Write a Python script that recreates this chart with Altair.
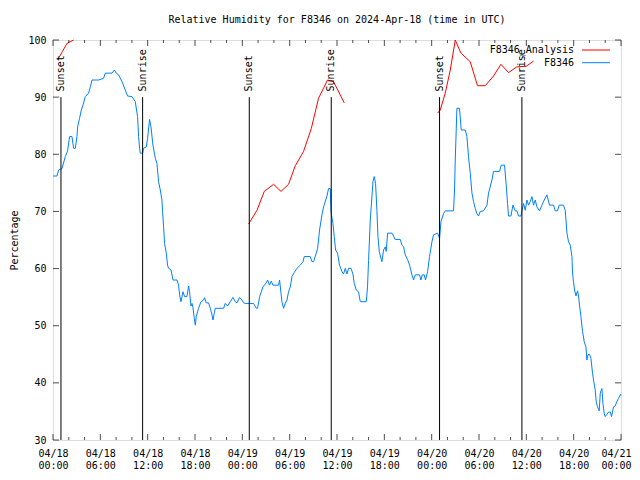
import json
import altair as alt
import pandas as pd

FONT = "DejaVu Sans Mono"
title_text = "Relative Humidity for F8346 on 2024-Apr-18 (time in UTC)"
y_title = "Percentage"

# x axis: hours since 2024-04-18 00:00 UTC
x_tick_hours = [0, 6, 12, 18, 24, 30, 36, 42, 48, 54, 60, 66, 72]
x_tick_labels = ["04/18 00:00", "04/18 06:00", "04/18 12:00", "04/18 18:00",
                 "04/19 00:00", "04/19 06:00", "04/19 12:00", "04/19 18:00",
                 "04/20 00:00", "04/20 06:00", "04/20 12:00", "04/20 18:00",
                 "04/21 00:00"]
x_minor_hours = [2, 4, 8, 10, 14, 16, 20, 22, 26, 28, 32, 34, 38, 40, 44, 46,
                 50, 52, 56, 58, 62, 64, 68, 70]
y_ticks = [30, 40, 50, 60, 70, 80, 90, 100]

sun_hours = [1.01, 11.36, 24.88, 35.27, 49.0, 59.44]
sun_labels = ["Sunset", "Sunrise", "Sunset", "Sunrise", "Sunset", "Sunrise"]

legend_labels = ["F8346_Analysis", "F8346"]
legend_colors = ["#ff0000", "#0080ff"]

# Observations (F8346)
obs_hours = [
    0.0, 0.51, 0.71, 1.14, 1.56, 1.85, 2.10, 2.41, 2.61, 2.83,
    3.04, 3.12, 3.37, 3.59, 3.80, 4.09, 4.51, 4.73, 4.94, 5.78,
    6.41, 6.63, 7.48, 7.77, 8.02, 8.31, 8.75, 9.16, 9.45, 10.01,
    10.43, 10.72, 10.85, 10.98, 11.06, 11.36, 11.48, 11.83, 11.99, 12.24,
    12.42, 12.67, 12.97, 13.18, 13.38, 13.60, 13.81, 13.89, 14.02, 14.14,
    14.36, 14.52, 14.65, 14.96, 15.21, 15.72, 15.92, 16.05, 16.22, 16.48,
    16.68, 16.98, 17.19, 17.31, 17.49, 17.62, 17.74, 17.91, 18.04, 18.16,
    18.45, 18.76, 19.09, 19.21, 19.43, 19.72, 19.94, 20.15, 20.28, 20.44,
    20.57, 21.62, 21.84, 22.13, 22.47, 22.81, 23.11, 23.32, 23.65, 23.95,
    24.16, 24.37, 25.42, 25.77, 25.93, 26.19, 26.62, 27.03, 27.20, 27.45,
    27.67, 27.88, 28.59, 28.72, 28.90, 29.02, 29.23, 29.44, 29.66, 29.86,
    30.08, 30.29, 30.58, 30.93, 31.34, 31.69, 31.85, 32.61, 32.83, 33.03,
    33.37, 33.54, 33.79, 34.09, 34.30, 34.73, 34.93, 35.15, 35.23, 35.27,
    35.49, 35.65, 35.82, 36.07, 36.32, 36.63, 36.83, 37.05, 37.26, 37.47,
    37.77, 38.02, 38.19, 38.44, 38.73, 38.95, 39.71, 39.87, 40.00, 40.22,
    40.56, 40.72, 40.89, 41.06, 41.19, 41.36, 41.57, 41.70, 41.90, 42.12,
    42.24, 42.41, 42.97, 43.38, 44.02, 44.23, 44.44, 44.65, 44.94, 45.20,
    45.50, 45.70, 45.92, 46.46, 46.64, 46.81, 47.06, 47.22, 47.48, 47.73,
    48.04, 48.24, 48.75, 49.00, 49.18, 49.50, 49.72, 50.77, 50.90, 50.99,
    51.20, 51.53, 51.75, 52.26, 52.47, 52.67, 52.89, 53.11, 53.31, 53.52,
    53.74, 53.94, 54.16, 54.58, 55.01, 55.21, 55.64, 55.84, 56.60, 56.82,
    57.24, 57.45, 57.62, 57.74, 58.05, 58.30, 58.59, 58.81, 59.01, 59.32,
    59.44, 59.65, 59.86, 60.08, 60.28, 60.49, 60.71, 60.91, 61.13, 61.34,
    61.67, 61.98, 62.27, 62.61, 62.94, 63.45, 63.66, 63.95, 64.17, 64.71,
    64.93, 65.15, 65.35, 65.56, 65.78, 65.86, 65.98, 66.11, 66.29, 66.49,
    66.62, 66.74, 66.92, 67.12, 67.34, 67.55, 67.68, 67.81, 68.01, 68.19,
    68.39, 68.52, 68.73, 68.86, 69.02, 69.24, 69.37, 69.58, 69.71, 69.88,
    70.00, 70.22, 70.42, 70.64, 70.80, 71.05, 71.26, 71.48, 71.68, 71.99,
]
obs_rh = [
    76.2, 76.2, 77.25, 77.5, 79.6, 80.6, 83.1, 83.1, 81.05, 81.05,
    83.1, 84.8, 86.3, 87.75, 88.6, 90.1, 90.7, 91.8, 93.0, 93.0,
    93.3, 94.2, 94.2, 94.75, 94.2, 93.9, 92.7, 91.25, 90.2, 90.1,
    89.2, 86.6, 83.1, 81.05, 80.2, 80.2, 81.05, 81.3, 82.8, 86.1,
    84.8, 81.6, 79.3, 78.4, 75.2, 73.75, 72.0, 70.0, 67.3, 64.4,
    62.7, 60.6, 60.05, 59.75, 58.0, 58.0, 57.1, 55.4, 54.2, 55.95,
    55.1, 55.1, 56.95, 55.95, 53.45, 53.9, 53.2, 51.3, 50.1, 51.6,
    53.05, 54.2, 54.5, 54.9, 54.0, 54.0, 53.05, 51.9, 51.0, 52.2,
    53.05, 53.05, 53.9, 53.45, 54.2, 54.95, 54.2, 54.0, 54.95, 54.5,
    54.0, 53.9, 53.9, 53.05, 53.05, 55.1, 56.8, 57.5, 58.0, 57.1,
    57.8, 57.1, 57.1, 58.0, 55.7, 54.2, 53.05, 53.9, 54.5, 55.95,
    56.8, 58.6, 59.3, 60.05, 60.6, 61.2, 62.1, 62.1, 61.2, 61.2,
    62.7, 63.5, 66.75, 69.4, 70.8, 72.7, 74.0, 74.0, 70.2, 69.6,
    67.9, 65.6, 63.25, 62.7, 60.6, 59.45, 59.05, 60.05, 59.05, 60.05,
    60.05, 59.05, 57.4, 56.25, 55.95, 54.2, 54.2, 56.8, 61.4, 68.5,
    75.2, 76.1, 74.9, 70.2, 65.6, 63.0, 61.8, 61.2, 63.25, 63.8,
    63.0, 66.2, 66.2, 65.1, 65.1, 64.1, 63.8, 62.4, 61.6, 60.6,
    58.9, 58.0, 58.9, 58.9, 58.0, 58.9, 58.9, 58.0, 59.45, 62.1,
    64.7, 65.9, 66.2, 65.3, 68.2, 69.6, 70.1, 70.1, 73.75, 79.0,
    88.05, 88.05, 84.25, 84.25, 83.1, 79.6, 76.7, 73.2, 71.7, 70.55,
    69.6, 69.2, 70.0, 70.1, 71.1, 73.2, 75.5, 77.0, 77.0, 78.1,
    78.1, 74.6, 71.4, 69.2, 69.2, 71.1, 70.1, 70.1, 69.2, 69.2,
    70.1, 71.4, 70.2, 72.0, 71.1, 71.7, 72.6, 71.1, 72.0, 70.8,
    70.1, 71.1, 72.0, 72.9, 71.1, 71.1, 70.1, 70.1, 71.1, 71.1,
    70.2, 66.2, 64.7, 64.1, 62.1, 59.2, 57.7, 56.25, 55.2, 56.1,
    55.2, 53.6, 51.6, 49.0, 47.2, 46.3, 44.0, 44.9, 45.0, 44.3,
    41.7, 40.5, 38.75, 36.7, 35.8, 35.1, 38.2, 39.0, 36.4, 34.6,
    34.1, 34.5, 34.9, 34.9, 34.1, 35.8, 35.95, 36.7, 37.3, 38.05,
]

# Analysis (F8346_Analysis), three separate segments
ana_hours_1 = [0.58, 1.2, 1.77, 2.61]
ana_rh_1 = [96.5, 98.0, 99.4, 100.0]
ana_hours_2 = [24.79, 25.86, 26.78, 27.96, 28.9, 29.86, 30.71, 31.76, 32.74,
               33.66, 34.8, 35.56, 36.92]
ana_rh_2 = [67.8, 70.2, 73.5, 74.75, 73.5, 74.75, 78.0, 80.5, 84.5, 89.8,
            93.0, 92.7, 89.0]
ana_hours_3 = [48.74, 49.09, 49.72, 50.36, 50.99, 51.71, 52.89, 53.81, 54.79,
               55.84, 56.78, 57.74, 58.8, 59.98, 60.91]
ana_rh_3 = [87.2, 87.75, 90.7, 94.75, 100.0, 97.7, 96.2, 92.0, 92.0, 93.7,
            95.75, 94.3, 95.3, 95.4, 96.3]

# ---------------- build tables ----------------
obs_df = pd.DataFrame({"h": obs_hours, "rh": obs_rh})
ana_df = pd.concat([
    pd.DataFrame({"h": ana_hours_1, "rh": ana_rh_1, "seg": 1}),
    pd.DataFrame({"h": ana_hours_2, "rh": ana_rh_2, "seg": 2}),
    pd.DataFrame({"h": ana_hours_3, "rh": ana_rh_3, "seg": 3}),
], ignore_index=True)
sun_df = pd.DataFrame({"h": sun_hours, "label": sun_labels,
                       "y0": 30, "y1": 90, "ty": 91})
major_df = pd.DataFrame({"h": x_tick_hours, "lo": 30, "hi": 100})
minor_df = pd.DataFrame({"h": x_minor_hours, "lo": 30, "hi": 100})
ytick_df = pd.DataFrame({"rh": y_ticks, "l": 0, "r": 72})

labels_js = json.dumps(x_tick_labels)
label_expr = f"split({labels_js}[round(datum.value / 6)], ' ')"

x_scale = alt.Scale(domain=[0, 72], nice=False, zero=False)
y_scale = alt.Scale(domain=[30, 100], nice=False, zero=False)

x_axis = alt.Axis(values=x_tick_hours, labelExpr=label_expr, title=None,
                  ticks=False, domain=False, grid=False, labelPadding=8,
                  labelFlush=False, labelOverlap=False, labelLineHeight=12,
                  labelOffset={"condition": {"test": "datum.value >= 72",
                                             "value": -5}, "value": 0},
                  labelFont=FONT, labelFontSize=10, labelColor="black")
y_axis = alt.Axis(values=y_ticks, title=y_title, ticks=False, domain=False,
                  grid=False, labelPadding=7, labelFont=FONT, labelFontSize=10,
                  labelColor="black", titleFont=FONT, titleFontSize=10,
                  titleFontWeight="normal", titleColor="black",
                  titleX=-39, titleY=200, titleAngle=270,
                  titleAlign="center", titleBaseline="middle")


def X(field):
    return alt.X(field, scale=x_scale, axis=x_axis)


def Y(field):
    return alt.Y(field, scale=y_scale, axis=y_axis)


obs_line = alt.Chart(obs_df).mark_line(color="#0080ff", strokeWidth=1).encode(
    x=X("h:Q"), y=Y("rh:Q"), order="h:Q",
)

ana_line = alt.Chart(ana_df).mark_line(color="#ff0000", strokeWidth=1).encode(
    x=X("h:Q"), y=Y("rh:Q"), detail="seg:N", order="h:Q",
)

sun_rules = alt.Chart(sun_df).mark_rule(color="black", strokeWidth=1).encode(
    x=X("h:Q"), y=Y("y0:Q"), y2="y1:Q",
)
sun_text = alt.Chart(sun_df).mark_text(
    angle=270, align="left", baseline="middle", font=FONT, fontSize=10,
    color="black"
).encode(x=X("h:Q"), y=Y("ty:Q"), text="label:N")


def xticks(df, size):
    bottom = alt.Chart(df).mark_tick(orient="vertical", size=size, thickness=1,
                                     color="black", yOffset=-size / 2).encode(
        x=X("h:Q"), y=Y("lo:Q"))
    top = alt.Chart(df).mark_tick(orient="vertical", size=size, thickness=1,
                                  color="black", yOffset=size / 2).encode(
        x=X("h:Q"), y=Y("hi:Q"))
    return [bottom, top]


yt_left = alt.Chart(ytick_df).mark_tick(orient="horizontal", size=6, thickness=1,
                                        color="black", xOffset=3).encode(
    x=X("l:Q"), y=Y("rh:Q"))
yt_right = alt.Chart(ytick_df).mark_tick(orient="horizontal", size=6, thickness=1,
                                         color="black", xOffset=-3).encode(
    x=X("r:Q"), y=Y("rh:Q"))

# legend (gnuplot style: label then line sample), top-right inside the plot
leg_layers = []
for i, (lab, col) in enumerate(zip(legend_labels, legend_colors)):
    one = pd.DataFrame({"label": [lab]})
    ly = 10 + 12.7 * i
    leg_layers.append(alt.Chart(one).mark_text(
        align="right", baseline="middle", font=FONT, fontSize=10, color="black"
    ).encode(x=alt.value(521), y=alt.value(ly), text="label:N"))
    leg_layers.append(alt.Chart(one).mark_rule(color=col, strokeWidth=1).encode(
        x=alt.value(529), x2=alt.value(557), y=alt.value(ly)))

chart = alt.layer(
    obs_line, ana_line, sun_rules, sun_text,
    *xticks(major_df, 6), *xticks(minor_df, 3), yt_left, yt_right,
    *leg_layers,
).properties(
    width=568, height=400,
    title=alt.TitleParams(title_text, font=FONT, fontSize=10,
                          fontWeight="normal", color="black", offset=10),
    padding={"left": 45, "top": 32, "right": 11, "bottom": 32},
    autosize=alt.AutoSizeParams(type="none"),
).configure_view(stroke="black", strokeWidth=1).configure(background="white")

chart.save("out.html", embed_options={"renderer": "svg", "actions": False})
